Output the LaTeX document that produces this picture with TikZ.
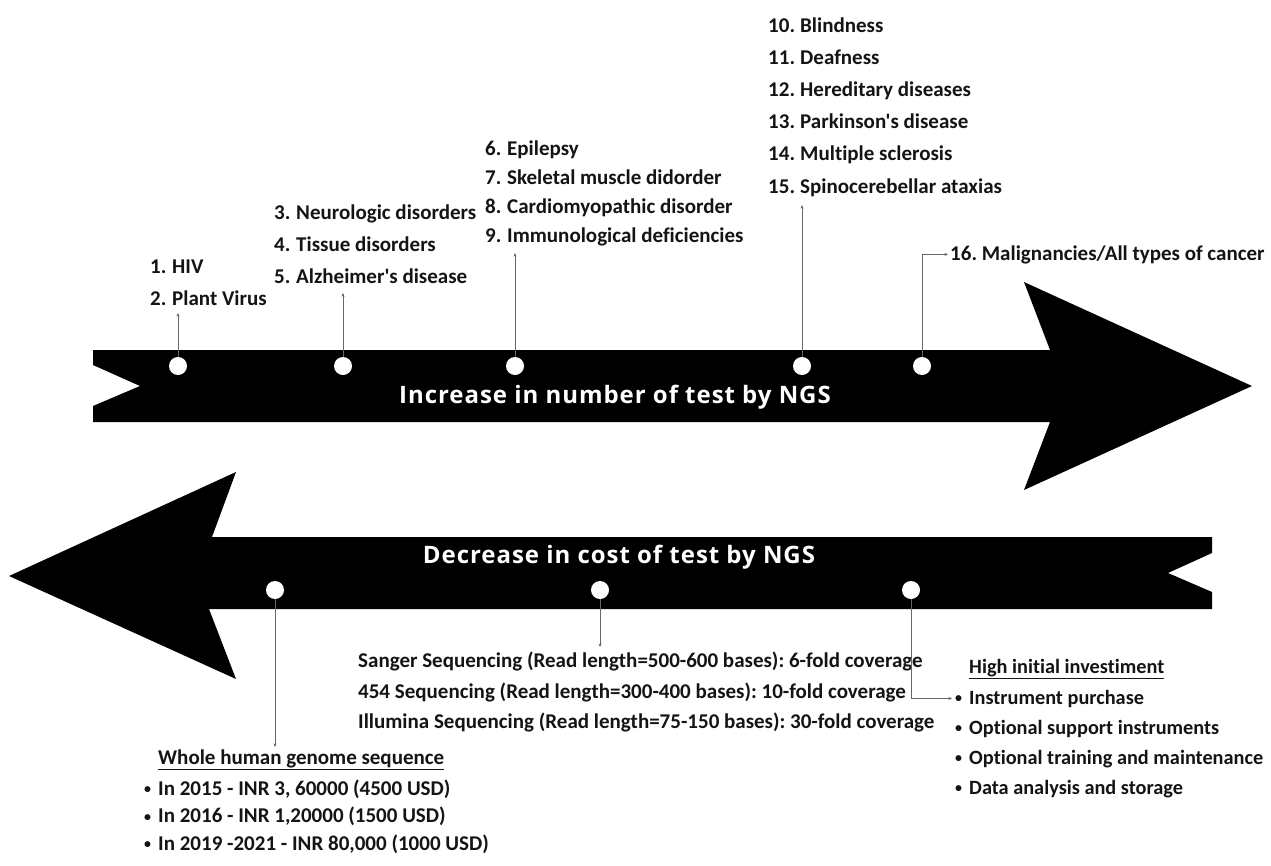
\documentclass[tikz,border=0pt]{standalone}
\usepackage{fontspec}
\setmainfont{Carlito}[Ligatures={TeXOff,CommonOff}]
\newfontfamily\bandfont{Open Sans}[LetterSpace=4]
\usetikzlibrary{arrows.meta}
\frenchspacing
\newcommand\nb[1]{\makebox[22pt][l]{#1.}}
\newcommand\nbb[1]{\makebox[32pt][l]{#1.}}
\newcommand\bul{\makebox[14pt][l]{\raisebox{1.5pt}{\fontsize{14}{14}\selectfont\textbullet}}}

\begin{document}
\begin{tikzpicture}[x=1pt,y=-1pt,
    lbl/.style={anchor=base west,inner sep=0pt,text=black!92,font=\fontsize{21}{25}\selectfont\bfseries},
    lbls/.style={lbl,font=\fontsize{20.3}{24}\selectfont\bfseries},
    band/.style={anchor=base,inner sep=0pt,text=white,font=\bandfont\fontsize{24}{28}\selectfont\bfseries},
    dot/.style={circle,fill=white,inner sep=0pt,minimum size=18pt},
    conn/.style={draw=black!60,line width=0.8pt,-{Stealth[length=3.5pt,width=3pt]}}]
    \useasboundingbox (0,0) rectangle (1271,865);
    % upper band, pointing right
    \fill (93,350) -- (1050,350) -- (1024,282) -- (1252,386) -- (1024,490) -- (1050,422) -- (93,422)
        -- (93,406) -- (140,386) -- (93,365) -- cycle;
    % lower band, pointing left
    \fill (1212,537) -- (212,537) -- (236,472) -- (9,576) -- (236,679) -- (209,609) -- (1212,609)
        -- (1212,592) -- (1168,573) -- (1212,553) -- cycle;
    \node[band] (incr) at (615,403) {Increase in number of test by NGS};
    \node[band] (decr) at (619,563) {Decrease in cost of test by NGS};
    % dots
    \foreach \x [count=\i] in {178,343,515,802,922}
        \node[dot] (d\i) at (\x,366) {};
    \foreach \x [count=\i] in {275,600,911}
        \node[dot] (e\i) at (\x,590) {};
    % diseases
    \node[lbl] (hiv) at (150,273) {\nb{1}HIV};
    \node[lbl] (pv) at (150,305) {\nb{2}Plant Virus};
    \foreach \t [count=\i from 3] in {Neurologic disorders,Tissue disorders,Alzheimer's disease}
        \node[lbl] (dis\i) at (274,{219+32*(\i-3)}) {\nb{\i}\t};
    \foreach \t [count=\i from 6] in {Epilepsy,Skeletal muscle didorder,Cardiomyopathic disorder,Immunological deficiencies}
        \node[lbl] (dis\i) at (485,{155+29*(\i-6)}) {\nb{\i}\t};
    \foreach \t [count=\i from 10] in {Blindness,Deafness,Hereditary diseases,Parkinson's disease,Multiple sclerosis,Spinocerebellar ataxias}
        \node[lbl] (dis\i) at (768,{32+32.2*(\i-10)}) {\nbb{\i}\t};
    \node[lbl] (dis16) at (950,260) {16.\ Malignancies/All types of cancer};
    % costs
    \node[lbl] (wh) at (158,764) {\underline{Whole human genome sequence}};
    \foreach \t [count=\i] in {{In 2015 - INR 3, 60000 (4500 USD)},{In 2016 - INR 1,20000 (1500 USD)},{In 2019 -2021 - INR 80,000 (1000 USD)}}
        \node[lbl] (yr\i) at (144,{795+27.5*(\i-1)}) {\bul\t};
    \node[lbl] (sq1) at (358,667) {Sanger Sequencing (Read length=500-600 bases): 6-fold coverage};
    \node[lbl] (sq2) at (358,698) {454 Sequencing (Read length=300-400 bases): 10-fold coverage};
    \node[lbl] (sq3) at (358,728) {Illumina Sequencing (Read length=75-150 bases): 30-fold coverage};
    \node[lbls] (hi) at (969,673) {\underline{High initial investiment}};
    \foreach \t [count=\i] in {Instrument purchase,Optional support instruments,Optional training and maintenance,Data analysis and storage}
        \node[lbls] (inv\i) at (955,{704+30*(\i-1)}) {\bul\t};
    % connectors
    \coordinate (t1) at (178,313);
    \coordinate (t2) at (343,293);
    \coordinate (t3) at (515,253);
    \coordinate (t4) at (802,205);
    \coordinate (s1) at (275,747);
    \coordinate (s2) at (600,647);
    \draw[conn] (d1) -- (t1);
    \draw[conn] (d2) -- (t2);
    \draw[conn] (d3) -- (t3);
    \draw[conn] (d4) -- (t4);
    \draw[conn] (d5) |- ([xshift=-2pt]dis16.west);
    \draw[conn] (e1) -- (s1);
    \draw[conn] (e2) -- (s2);
    \draw[conn] (e3) |- ([xshift=-3pt]inv1.west);
\end{tikzpicture}
\end{document}
